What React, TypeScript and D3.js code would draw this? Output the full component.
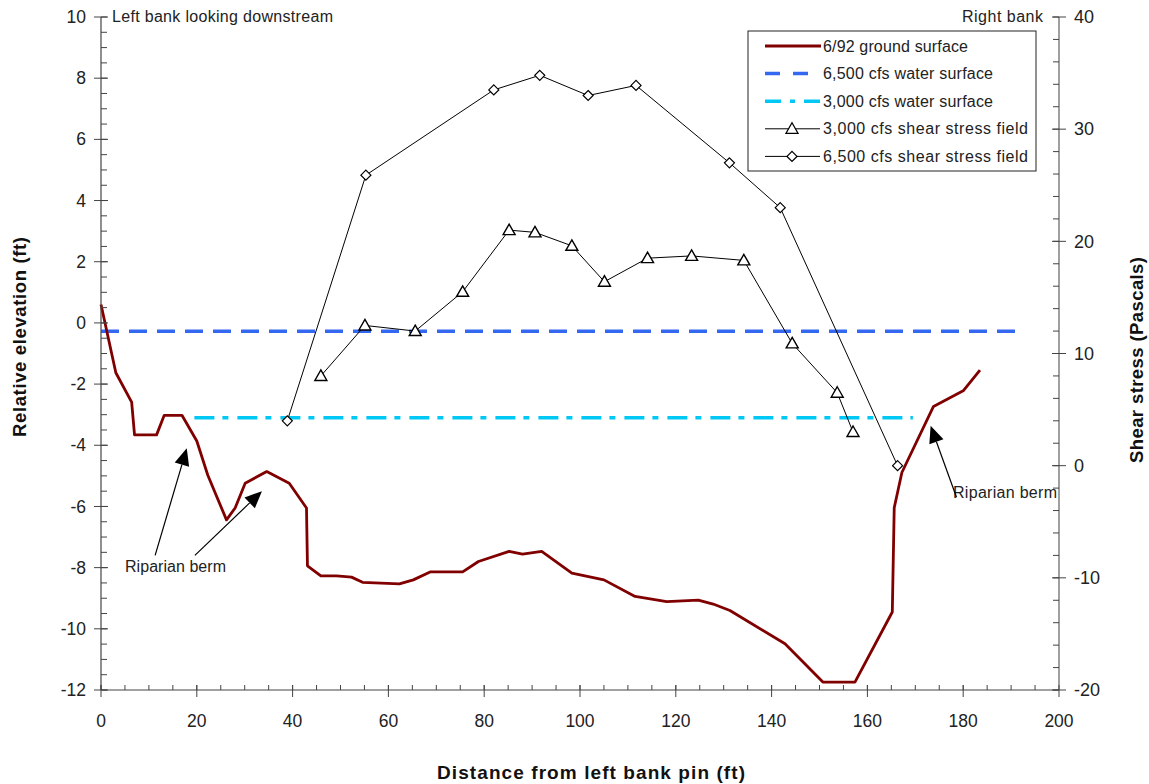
import React from "react";
import * as d3 from "d3";

// ground surface profile, 6/92 (distance ft, elevation ft)
const groundX = [0, 3.1, 6.4, 7.0, 11.6, 13.2, 16.9, 20.0, 22.3, 26.2, 28.0, 30.1, 34.6, 39.3, 42.9, 43.1, 45.9, 49.2, 52.3, 54.6, 62.3, 65.2, 68.7, 75.5, 78.8, 85.2, 88.0, 92.0, 98.3, 105.0, 111.5, 118.1, 124.7, 127.8, 131.3, 142.8, 150.7, 157.4, 165.2, 165.6, 167.2, 173.8, 180.0, 183.5];
const groundY = [0.6, -1.63, -2.59, -3.66, -3.66, -3.02, -3.02, -3.86, -4.98, -6.44, -6.05, -5.24, -4.86, -5.24, -6.05, -7.94, -8.27, -8.27, -8.31, -8.48, -8.53, -8.40, -8.14, -8.14, -7.80, -7.47, -7.56, -7.47, -8.18, -8.40, -8.94, -9.11, -9.06, -9.19, -9.40, -10.49, -11.74, -11.74, -9.45, -6.04, -4.89, -2.73, -2.22, -1.54];

// water surfaces (elevation ft)
const ws6500 = { from: 0, to: 191, elev: -0.27 };
const ws3000 = { from: 19.5, to: 169.5, elev: -3.1 };

// shear stress fields (distance ft, Pascals)
const shear3000X = [45.9, 55.1, 65.6, 75.5, 85.2, 90.6, 98.3, 105.1, 114.1, 123.3, 134.2, 144.3, 153.7, 157.0];
const shear3000Y = [8.0, 12.5, 12.0, 15.5, 21.0, 20.8, 19.6, 16.4, 18.5, 18.7, 18.3, 10.9, 6.5, 3.0];
const shear6500X = [38.9, 55.3, 82.0, 91.6, 101.7, 111.7, 131.2, 141.8, 166.3];
const shear6500Y = [4.0, 25.9, 33.5, 34.8, 33.0, 33.9, 27.0, 23.0, 0.0];

const xTicks = d3.range(0, 201, 20);
const yTicks = d3.range(-12, 11, 2);
const y2Ticks = d3.range(-20, 41, 10);

const legendItems = [
  { label: "6/92 ground surface", kind: "ground" },
  { label: "6,500 cfs water surface", kind: "ws6500" },
  { label: "3,000 cfs water surface", kind: "ws3000" },
  { label: "3,000 cfs shear stress field", kind: "tri" },
  { label: "6,500 cfs shear stress field", kind: "dia" },
];

const W = 1149;
const H = 784;
const left = 101, right = 1059, top = 17, bottom = 690;

const font = "'Liberation Sans', Arial, sans-serif";
const groundColor = "#800000";
const blue = "#3568f0";
const cyan = "#00c8f5";

const tri = (cx: number, cy: number) => `M${cx},${cy - 6}L${cx + 6},${cy + 4.5}L${cx - 6},${cy + 4.5}Z`;
const dia = (cx: number, cy: number) => `M${cx},${cy - 5}L${cx + 5},${cy}L${cx},${cy + 5}L${cx - 5},${cy}Z`;

const Arrow = ({ x1, y1, x2, y2 }: { x1: number; y1: number; x2: number; y2: number }) => {
  const ang = Math.atan2(y2 - y1, x2 - x1);
  const len = 17, half = 7.5;
  const bx = x2 - len * Math.cos(ang), by = y2 - len * Math.sin(ang);
  const px = -Math.sin(ang) * half, py = Math.cos(ang) * half;
  return (
    <g>
      <line x1={x1} y1={y1} x2={bx} y2={by} stroke="#000" strokeWidth={1.2} />
      <path d={`M${x2},${y2}L${bx + px},${by + py}L${bx - px},${by - py}Z`} fill="#000" />
    </g>
  );
};

export default function App() {
  const x = d3.scaleLinear().domain([0, 200]).range([left, right]);
  const y = d3.scaleLinear().domain([-12, 10]).range([bottom, top]);
  const y2 = d3.scaleLinear().domain([-20, 40]).range([bottom, top]);

  const groundLine = d3.line<number>().x((d, i) => x(groundX[i])).y((d) => y(d))(groundY) || "";
  const line2 = (xs: number[], ys: number[]) =>
    d3.line<number>().x((d, i) => x(xs[i])).y((d) => y2(d))(ys) || "";

  const xMinor = d3.range(0, 201, 5);
  const yMinor = d3.range(-12, 10.01, 0.5);
  const y2Minor = d3.range(-20, 40.01, 2);

  return (
    <svg width={W} height={H} style={{ position: "absolute", left: 0, top: 0, background: "#fff" }} fontFamily={font}>
      {/* water surfaces */}
      <line x1={x(ws6500.from)} x2={x(ws6500.to)} y1={y(ws6500.elev)} y2={y(ws6500.elev)}
        stroke={blue} strokeWidth={3.5} strokeDasharray="18,10" />
      <line x1={x(ws3000.from)} x2={x(ws3000.to)} y1={y(ws3000.elev)} y2={y(ws3000.elev)}
        stroke={cyan} strokeWidth={3.5} strokeDasharray="20,8,6,9" />

      {/* ground */}
      <path d={groundLine} fill="none" stroke={groundColor} strokeWidth={2.8} strokeLinejoin="round" />

      {/* shear stress */}
      <path d={line2(shear6500X, shear6500Y)} fill="none" stroke="#000" strokeWidth={1} />
      <path d={line2(shear3000X, shear3000Y)} fill="none" stroke="#000" strokeWidth={1} />
      {shear6500X.map((d, i) => (
        <path key={"d" + i} d={dia(x(d), y2(shear6500Y[i]))} fill="#fff" stroke="#000" strokeWidth={1.2} />
      ))}
      {shear3000X.map((d, i) => (
        <path key={"t" + i} d={tri(x(d), y2(shear3000Y[i]))} fill="#fff" stroke="#000" strokeWidth={1.4} />
      ))}

      {/* left axis */}
      <line x1={left} x2={left} y1={top} y2={bottom} stroke="#444" strokeWidth={1.2} />
      {yMinor.map((v) => (
        <line key={"ym" + v} x1={left} x2={left + 6} y1={y(v)} y2={y(v)} stroke="#444" />
      ))}
      {yTicks.map((v) => (
        <g key={"y" + v}>
          <line x1={left - 7} x2={left + 7} y1={y(v)} y2={y(v)} stroke="#444" />
          <text x={left - 15} y={y(v)} dy="0.35em" textAnchor="end" fontSize={17.5} fill="#222">{v}</text>
        </g>
      ))}

      {/* bottom axis */}
      <line x1={left} x2={right} y1={bottom} y2={bottom} stroke="#444" strokeWidth={1.2} />
      {xMinor.map((v) => (
        <line key={"xm" + v} x1={x(v)} x2={x(v)} y1={bottom - 5} y2={bottom} stroke="#444" />
      ))}
      {xTicks.map((v) => (
        <g key={"x" + v}>
          <line x1={x(v)} x2={x(v)} y1={bottom - 5} y2={bottom + 7} stroke="#444" />
          <text x={x(v)} y={bottom + 37} textAnchor="middle" fontSize={17.5} fill="#222">{v}</text>
        </g>
      ))}

      {/* right axis */}
      <line x1={right} x2={right} y1={top} y2={bottom} stroke="#777" strokeWidth={1.4} />
      {y2Minor.map((v) => (
        <line key={"y2m" + v} x1={right - 6} x2={right} y1={y2(v)} y2={y2(v)} stroke="#444" />
      ))}
      {y2Ticks.map((v) => (
        <g key={"y2" + v}>
          <line x1={right - 7} x2={right + 7} y1={y2(v)} y2={y2(v)} stroke="#444" />
          <text x={right + 15} y={y2(v)} dy="0.35em" textAnchor="start" fontSize={18} fill="#222">{v}</text>
        </g>
      ))}

      {/* axis titles */}
      <text transform={`translate(26,337) rotate(-90)`} textAnchor="middle"
        fontSize={18.5} fontWeight="bold" fill="#111" textLength={200} lengthAdjust="spacing">Relative elevation (ft)</text>
      <text transform={`translate(1143,360) rotate(-90)`} textAnchor="middle"
        fontSize={18.5} fontWeight="bold" fill="#111" textLength={206} lengthAdjust="spacing">Shear stress (Pascals)</text>
      <text x={591} y={779} textAnchor="middle" fontSize={19} fontWeight="bold" fill="#111"
        textLength={308} lengthAdjust="spacing">
        Distance from left bank pin (ft)
      </text>

      {/* bank labels */}
      <text x={112} y={22} fontSize={16} fill="#222" textLength={221} lengthAdjust="spacing">Left bank looking downstream</text>
      <text x={962} y={22} fontSize={16} fill="#222" textLength={81} lengthAdjust="spacing">Right bank</text>

      {/* annotations */}
      <text x={125} y={572} fontSize={16} fill="#222" textLength={101} lengthAdjust="spacing">Riparian berm</text>
      <Arrow x1={x(11.3)} y1={y(-7.6)} x2={x(17.9)} y2={y(-4.1)} />
      <Arrow x1={x(19.6)} y1={y(-7.6)} x2={x(33.6)} y2={y(-5.5)} />
      <text x={953} y={498} fontSize={16} fill="#222" textLength={104} lengthAdjust="spacing">Riparian berm</text>
      <Arrow x1={x(178.6)} y1={y(-5.7)} x2={x(173.2)} y2={y(-3.36)} />

      {/* legend */}
      <rect x={748} y={31} width={288} height={140} fill="#fff" stroke="#222" strokeWidth={1} />
      {legendItems.map((d, i) => {
        const ly = 46 + i * 27.6;
        const tl = [145, 170, 170, 205, 205][i];
        return (
          <g key={d.kind}>
            {d.kind === "ground" && <line x1={765} x2={821} y1={ly} y2={ly} stroke={groundColor} strokeWidth={2.8} />}
            {d.kind === "ws6500" && <line x1={765} x2={821} y1={ly} y2={ly} stroke={blue} strokeWidth={3.5} strokeDasharray="15,13" />}
            {d.kind === "ws3000" && <line x1={765} x2={821} y1={ly} y2={ly} stroke={cyan} strokeWidth={3.5} strokeDasharray="16,9,5,9" />}
            {(d.kind === "tri" || d.kind === "dia") && (
              <g>
                <line x1={765} x2={820} y1={ly} y2={ly} stroke="#000" strokeWidth={1} />
                <path d={d.kind === "tri" ? tri(792, ly) : dia(792, ly)} fill="#fff" stroke="#000" strokeWidth={1.3} />
              </g>
            )}
            <text x={823} y={ly} dy="0.35em" fontSize={16} fill="#222" textLength={tl} lengthAdjust="spacing">{d.label}</text>
          </g>
        );
      })}
    </svg>
  );
}
